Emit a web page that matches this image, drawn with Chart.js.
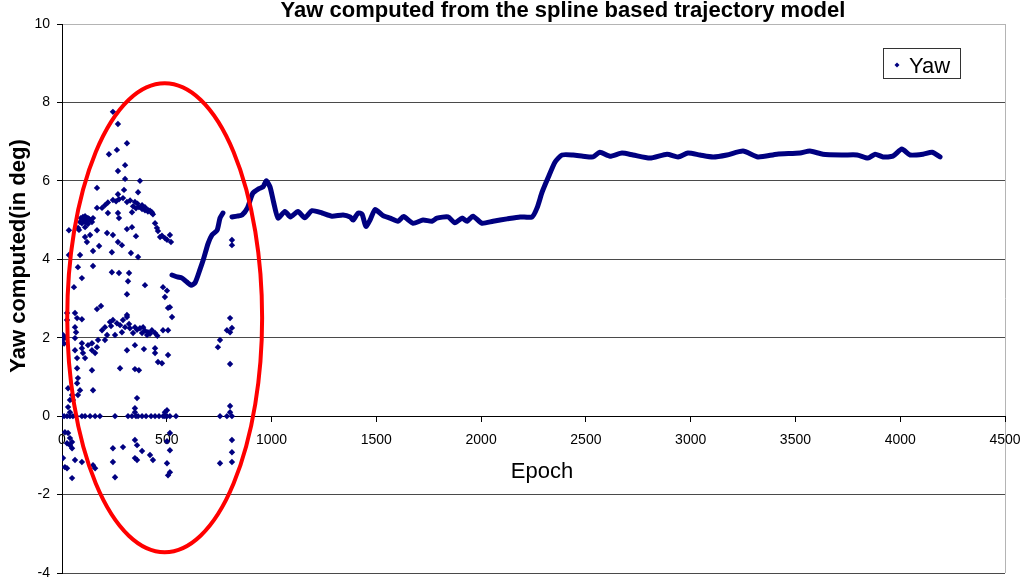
<!DOCTYPE html>
<html>
<head>
<meta charset="utf-8">
<script src="https://cdn.jsdelivr.net/npm/chart.js@4/dist/chart.umd.min.js"></script>
<style>
  html, body { margin: 0; padding: 0; background: #fff; }
</style>
</head>
<body>
<canvas id="myChart" width="1023" height="584"></canvas>
<script>
// smooth part of the yaw track (epoch, degrees); null marks the short dropout
var trackEpoch = [525,550,573,596,616,635,659,675,697,716,
  740,754,768,790,811,835,859,885,910,940,
  960,975,993,1010,1031,1064,1090,1126,1158,1193,
  1241,1288,1341,1375,1389,1413,1432,1450,1470,1494,
  1530,1565,1603,1630,1675,1723,1766,1789,1842,1875,
  1909,1933,1961,2004,2057,2124,2186,2243,2267,2291,
  2319,2353,2386,2439,2486,2534,2567,2615,2672,2725,
  2806,2887,2940,2987,3044,3107,3173,3250,3321,3412,
  3522,3569,3631,3727,3794,3846,3880,3918,3965,4008,
  4047,4109,4152,4190];
var trackYaw = [3.60,3.55,3.52,3.42,3.34,3.40,3.75,4.00,4.40,4.62,
  4.74,5.05,5.18,null,5.08,5.10,5.13,5.31,5.68,5.80,
  5.85,6.00,5.84,5.45,5.05,5.22,5.08,5.22,5.06,5.24,
  5.18,5.10,5.13,5.08,5.00,5.18,5.15,4.84,5.00,5.27,
  5.12,5.05,4.97,5.09,4.92,5.00,4.97,5.05,5.08,4.93,
  5.05,4.97,5.10,4.92,4.97,5.03,5.08,5.08,5.31,5.71,
  6.07,6.48,6.66,6.66,6.63,6.61,6.73,6.63,6.71,6.66,
  6.58,6.68,6.61,6.71,6.66,6.61,6.66,6.76,6.61,6.68,
  6.71,6.76,6.68,6.66,6.66,6.58,6.68,6.61,6.63,6.81,
  6.66,6.68,6.73,6.61];

// noisy solutions during the first ~800 epochs
var scatterEpoch = [
  243,267,310,262,224,301,267,301,372,167,296,363,267,
  191,205,219,243,258,272,291,310,325,348,360,382,396,410,420,429,167,219,267,334,339,353,367,382,396,410,425,434,
  77,81,86,90,95,100,105,110,115,119,124,129,134,143,148,110,124,
  272,334,310,353,110,134,167,110,177,119,215,243,267,286,238,329,148,363,33,33,86,76,95,148,238,272,320,315,396,310,57,167,186,310,
  444,453,458,468,477,491,501,515,520,482,491,501,506,515,525,
  811,811,802,787,802,811,754,744,802,
  191,205,229,243,262,277,291,310,301,324,348,372,387,410,429,444,215,253,286,339,382,406,482,506,234,320,358,396,420,455,
  172,143,205,95,124,62,62,72,95,62,67,5,0,24,24,10,14,
  444,444,506,458,477,62,95,100,72,110,143,158,167,310,348,391,72,143,277,348,367,76,72,86,148,29,76,52,29,38,358,348,348,501,491,802,802,38,48,
  0,10,24,38,52,67,95,110,134,158,181,253,315,334,353,363,382,401,425,444,463,482,491,501,515,544,754,787,811,
  14,29,38,48,38,24,48,243,291,348,358,382,348,358,420,434,515,515,501,515,506,501,5,14,24,62,95,148,158,243,253,754,811,811,811,48
];
var scatterYaw = [
  7.76,7.45,6.96,6.79,6.68,6.40,6.25,6.05,6.00,5.82,5.77,5.71,5.66,
  5.31,5.38,5.45,5.51,5.48,5.53,5.56,5.46,5.50,5.46,5.42,5.38,5.33,5.26,5.24,5.20,5.31,5.18,5.18,5.20,5.35,5.30,5.33,5.28,5.25,5.22,5.20,5.15,
  4.80,4.75,4.95,5.05,4.92,5.08,5.00,5.10,4.97,5.05,4.90,5.03,5.00,4.95,5.05,4.95,5.05,
  5.05,4.82,4.77,4.59,4.82,4.62,4.74,4.57,4.34,4.44,4.67,4.62,4.44,4.36,4.18,4.16,4.21,4.06,4.74,4.11,4.11,3.80,3.52,3.83,3.67,3.65,3.65,3.44,3.34,3.11,3.29,2.73,2.81,2.58,
  4.92,4.80,4.72,4.57,4.60,4.54,4.50,4.62,4.44,3.29,3.04,3.20,2.76,2.78,2.53,
  4.49,4.36,2.50,2.19,2.14,2.25,1.94,1.76,1.33,
  2.19,2.27,2.40,2.45,2.37,2.32,2.45,2.53,2.27,2.24,2.27,2.24,2.27,2.14,2.19,2.12,2.07,2.07,2.14,2.12,2.12,2.07,2.19,2.19,2.30,2.35,2.20,2.18,2.10,2.05,
  1.94,1.86,1.94,1.86,1.81,1.99,2.63,2.50,2.47,2.27,2.14,2.07,1.94,2.63,2.45,1.85,2.00,
  1.73,1.61,1.56,1.38,1.35,1.68,1.73,1.61,1.48,1.48,1.68,1.61,1.76,1.68,1.81,1.71,1.22,1.17,1.22,1.20,1.17,0.97,0.84,0.66,0.66,0.71,0.54,0.41,0.23,0.10,0.46,0.20,0.10,0.15,0.10,0.26,0.10,0.41,0.54,
  0,0,0,0,0,0,0,0,0,0,0,0,0,0,0,0,0,0,0,0,0,0,0,0,0,0,0,0,0,
  -0.41,-0.43,-0.56,-0.66,-0.74,-0.69,-0.82,-0.82,-0.79,-0.61,-0.74,-0.89,-1.07,-1.12,-0.99,-1.12,-0.43,-0.87,-1.20,-1.43,-1.51,-0.64,-1.07,-1.30,-1.33,-1.12,-1.17,-1.25,-1.33,-1.17,-1.56,-1.20,-0.61,-0.92,-1.17,-1.58
];

// red ring around the unstable start, in epoch / degree units
var ring = { epoch: 490, yaw: 2.51, rEpoch: 465, rYaw: 5.98 };

var navy = "#000080";
var font = "'Liberation Sans', Arial, sans-serif";

function toPoints(xs, ys) {
  return xs.map(function (x, i) { return { x: x, y: ys[i] }; });
}

// keep the plot box fixed: no extra room for overhanging tick labels
function noOverhang(s) {
  s.paddingLeft = 0;
  s.paddingRight = 0;
  s.paddingTop = 0;
  s.paddingBottom = 0;
}

var extras = {
  id: "extras",
  afterDatasetsDraw: function (chart) {
    var ctx = chart.ctx, sx = chart.scales.x, sy = chart.scales.y;
    var cx = sx.getPixelForValue(ring.epoch);
    var cy = sy.getPixelForValue(ring.yaw);
    var rx = sx.getPixelForValue(ring.epoch + ring.rEpoch) - cx;
    var ry = cy - sy.getPixelForValue(ring.yaw + ring.rYaw);
    ctx.save();
    ctx.strokeStyle = "#ff0000";
    ctx.lineWidth = 4;
    ctx.beginPath();
    ctx.ellipse(cx, cy, rx, ry, 0, 0, Math.PI * 2);
    ctx.stroke();
    ctx.restore();
  },
  afterDraw: function (chart) {
    var ctx = chart.ctx;
    ctx.save();
    ctx.fillStyle = "#000";

    // title
    ctx.font = "bold 22px " + font;
    ctx.textAlign = "center";
    ctx.textBaseline = "alphabetic";
    ctx.fillText("Yaw computed from the spline based trajectory model", 563, 17);

    // axis titles
    ctx.font = "22px " + font;
    ctx.textBaseline = "middle";
    ctx.fillText("Epoch", 542, 472);

    ctx.save();
    ctx.translate(19, 256);
    ctx.rotate(-Math.PI / 2);
    ctx.font = "bold 22px " + font;
    ctx.fillText("Yaw computed(in deg)", 0, 0);
    ctx.restore();

    // legend box
    ctx.fillStyle = "#fff";
    ctx.fillRect(883, 48, 78, 31);
    ctx.strokeStyle = "#333";
    ctx.lineWidth = 1;
    ctx.strokeRect(883.5, 48.5, 77, 30);
    ctx.fillStyle = navy;
    ctx.beginPath();
    ctx.moveTo(897, 62.5);
    ctx.lineTo(899.5, 65);
    ctx.lineTo(897, 67.5);
    ctx.lineTo(894.5, 65);
    ctx.closePath();
    ctx.fill();
    ctx.fillStyle = "#000";
    ctx.font = "22px " + font;
    ctx.textAlign = "left";
    ctx.textBaseline = "alphabetic";
    ctx.fillText(chart.data.datasets[0].label, 909, 73);
    ctx.restore();
  }
};

new Chart("myChart", {
  type: "scatter",
  data: {
    datasets: [{
      label: "Yaw",
      data: toPoints(trackEpoch, trackYaw),
      showLine: true,
      spanGaps: false,
      borderColor: navy,
      borderWidth: 5,
      borderJoinStyle: "round",
      borderCapStyle: "round",
      tension: 0.2,
      pointRadius: 0
    }, {
      label: "Yaw scatter",
      data: toPoints(scatterEpoch, scatterYaw),
      backgroundColor: navy,
      borderColor: navy,
      borderWidth: 0,
      pointStyle: "rectRot",
      pointRadius: 3.2
    }]
  },
  plugins: [extras],
  options: {
    responsive: false,
    animation: false,
    layout: { padding: { left: 0, top: 24, right: 18, bottom: 11 } },
    plugins: {
      legend: { display: false },
      title: { display: false },
      tooltip: { enabled: false }
    },
    scales: {
      x: {
        type: "linear",
        position: { y: 0 },
        min: 0,
        max: 4500,
        ticks: {
          stepSize: 500,
          padding: 11,
          color: "#000",
          maxRotation: 0,
          font: { family: font, size: 14 },
          callback: function (v) { return String(v); }
        },
        grid: {
          color: function (c) { return c.tick && c.tick.value === 4500 ? "#b4b4b4" : "rgba(0,0,0,0)"; },
          tickColor: "#000",
          tickLength: 5
        },
        border: { color: "#000" },
        afterFit: function (s) { s.height = 0; noOverhang(s); }
      },
      y: {
        min: -4,
        max: 10,
        ticks: { stepSize: 2, padding: 7, color: "#000", font: { family: font, size: 14 } },
        grid: {
          color: function (c) {
            if (!c.tick) return "#4a4a4a";
            if (c.tick.value === 0) return "#000";
            if (c.tick.value === 10) return "#b4b4b4";
            return "#4a4a4a";
          },
          tickColor: "#000",
          tickLength: 5
        },
        border: { color: "#000" },
        afterFit: function (s) { s.width = 62; noOverhang(s); }
      }
    }
  }
});
</script>
</body>
</html>
